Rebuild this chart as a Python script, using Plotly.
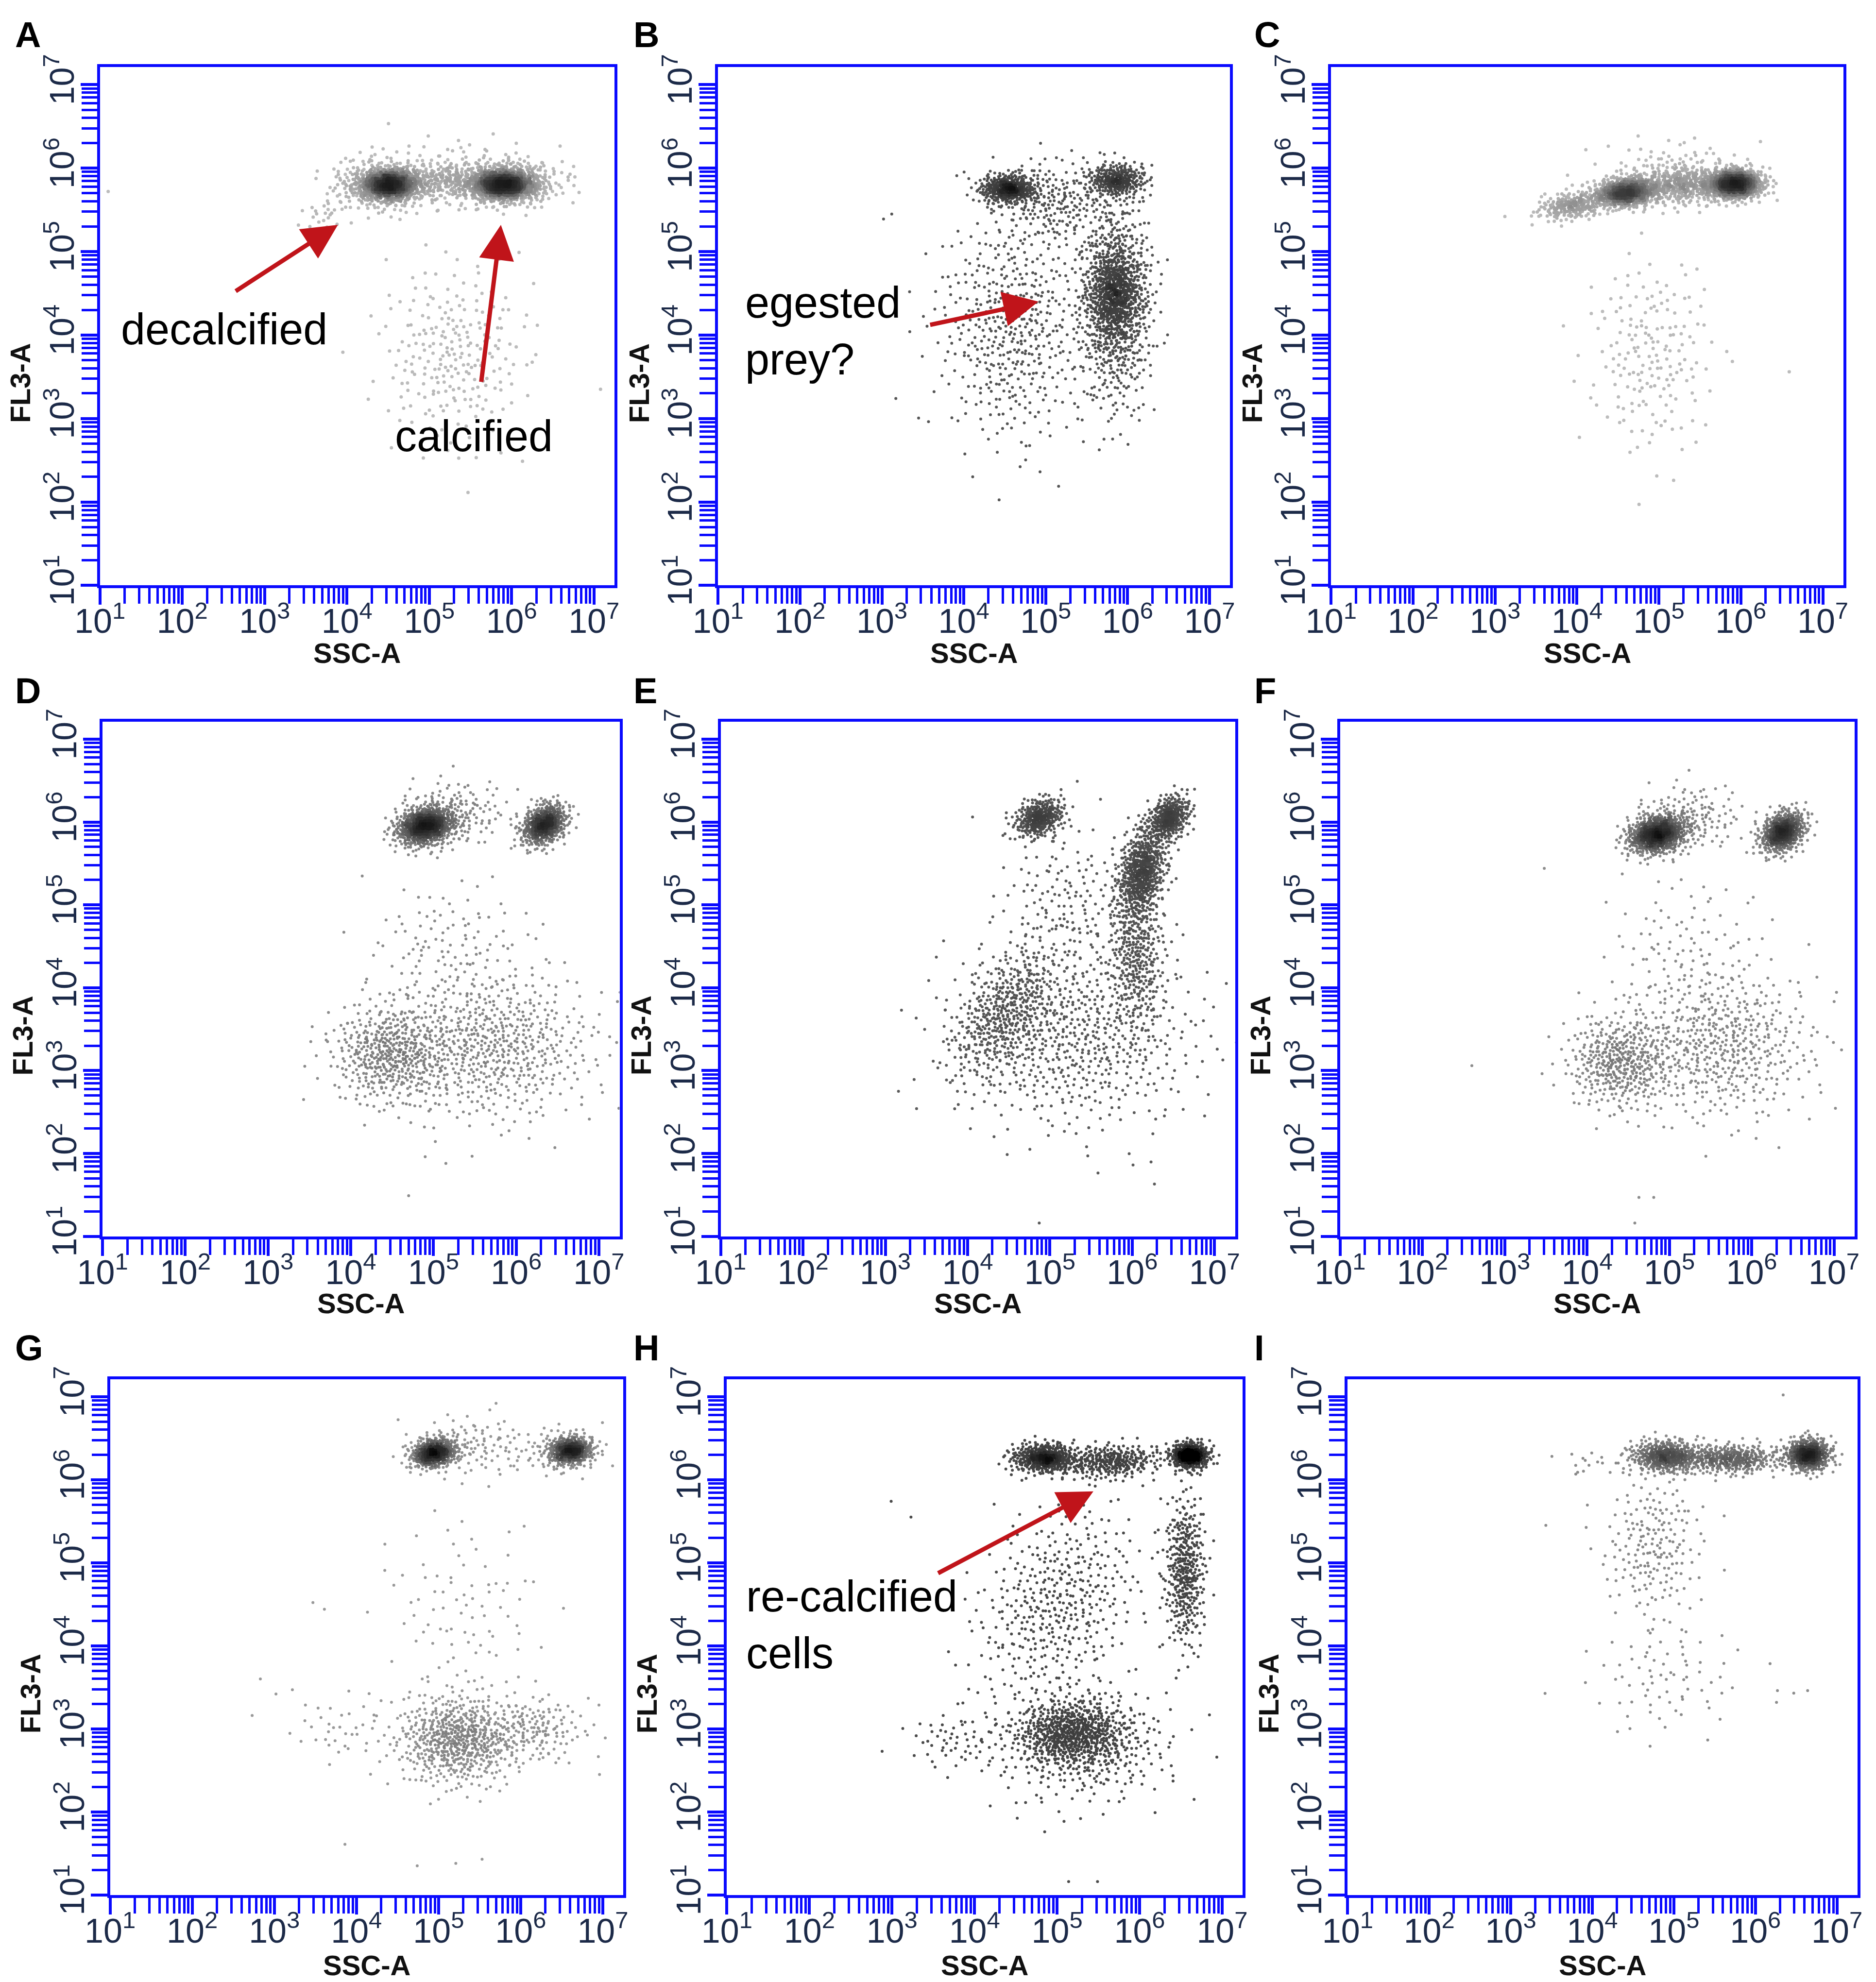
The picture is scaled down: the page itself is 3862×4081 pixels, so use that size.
import numpy as np
import plotly.graph_objects as go

# Flow cytometry dot plots, SSC-A (x) vs FL3-A (y), both log axes.
# Each cloud in decades (log10):
# (x centre, y centre, x spread, y spread, tilt, number of events)
CLUSTERS_A = [
    (4.52, 5.80, 0.17, 0.09, 0.0, 600),
    (5.90, 5.80, 0.19, 0.09, 0.0, 700),
    (4.45, 5.80, 0.30, 0.15, 0.0, 380),
    (5.95, 5.82, 0.32, 0.14, 0.0, 380),
    (5.20, 5.85, 0.25, 0.12, 0.0, 160),
    (5.30, 5.95, 0.60, 0.22, 0.0, 100),
    (3.75, 5.45, 0.18, 0.09, 0.0, 20),
    (5.30, 3.75, 0.45, 0.55, 0.0, 240),
]
CLUSTERS_B = [
    (4.54, 5.75, 0.18, 0.09, 0.0, 380),
    (5.87, 5.85, 0.18, 0.10, 0.0, 300),
    (5.85, 4.50, 0.17, 0.28, 0.0, 500),
    (5.85, 4.40, 0.22, 0.62, 0.0, 750),
    (4.60, 4.10, 0.45, 0.70, 0.0, 480),
    (5.10, 5.60, 0.35, 0.25, 0.0, 200),
]
CLUSTERS_C = [
    (4.60, 5.71, 0.20, 0.09, 0.15, 600),
    (5.93, 5.81, 0.17, 0.09, 0.0, 700),
    (3.95, 5.55, 0.22, 0.09, 0.3, 200),
    (5.30, 5.80, 0.28, 0.12, 0.0, 300),
    (5.20, 5.95, 0.50, 0.20, 0.0, 110),
    (4.90, 3.75, 0.38, 0.60, 0.0, 180),
]
CLUSTERS_D = [
    (4.90, 5.95, 0.18, 0.12, 0.2, 700),
    (6.34, 5.97, 0.14, 0.13, 0.3, 520),
    (5.25, 6.10, 0.32, 0.20, 0.0, 150),
    (4.48, 3.20, 0.35, 0.30, 0.0, 450),
    (5.70, 3.30, 0.62, 0.45, 0.0, 600),
    (5.20, 4.50, 0.50, 0.40, 0.0, 110),
]
CLUSTERS_E = [
    (4.87, 6.05, 0.15, 0.12, 0.3, 320),
    (6.45, 6.05, 0.13, 0.14, 0.3, 320),
    (6.12, 5.40, 0.15, 0.28, 0.3, 600),
    (6.05, 4.40, 0.17, 0.45, 0.0, 330),
    (4.45, 3.70, 0.33, 0.40, 0.5, 420),
    (5.30, 3.40, 0.75, 0.55, 0.0, 600),
    (5.20, 5.00, 0.40, 0.50, 0.0, 160),
]
CLUSTERS_F = [
    (4.85, 5.85, 0.18, 0.12, 0.2, 700),
    (6.38, 5.88, 0.14, 0.13, 0.3, 520),
    (5.25, 6.05, 0.32, 0.20, 0.0, 140),
    (4.40, 3.10, 0.32, 0.28, 0.0, 400),
    (5.65, 3.30, 0.55, 0.45, 0.0, 480),
    (5.20, 4.40, 0.50, 0.50, 0.0, 110),
]
CLUSTERS_G = [
    (4.94, 6.32, 0.14, 0.09, 0.2, 450),
    (6.61, 6.35, 0.14, 0.09, 0.1, 400),
    (5.35, 6.40, 0.35, 0.18, 0.0, 110),
    (6.40, 6.35, 0.30, 0.15, 0.0, 70),
    (5.24, 2.87, 0.38, 0.27, 0.0, 600),
    (6.20, 3.00, 0.30, 0.20, 0.0, 130),
    (5.30, 4.40, 0.50, 0.60, 0.0, 90),
    (3.80, 3.00, 0.30, 0.20, 0.0, 35),
]
CLUSTERS_H = [
    (4.85, 6.26, 0.20, 0.09, 0.0, 450),
    (5.65, 6.22, 0.30, 0.10, 0.1, 300),
    (6.61, 6.29, 0.12, 0.08, 0.0, 420),
    (6.55, 4.90, 0.12, 0.45, 0.0, 380),
    (5.00, 4.50, 0.50, 0.60, 0.3, 420),
    (5.19, 2.94, 0.33, 0.20, 0.0, 600),
    (5.30, 2.80, 0.55, 0.35, 0.0, 340),
    (3.75, 2.85, 0.30, 0.18, 0.0, 55),
]
CLUSTERS_I = [
    (4.90, 6.28, 0.22, 0.10, 0.0, 420),
    (5.70, 6.25, 0.30, 0.09, 0.0, 360),
    (6.65, 6.30, 0.14, 0.10, 0.0, 480),
    (4.75, 5.20, 0.30, 0.45, 0.0, 190),
    (4.90, 3.60, 0.50, 0.35, 0.0, 75),
    (3.95, 6.20, 0.20, 0.10, 0.0, 15),
]

# single stray events (log10 x, log10 y)
OUTLIERS_A = [(1.10, 5.72), (7.08, 3.35), (3.55, 5.30)]
OUTLIERS_B = [(3.02, 5.39), (3.17, 3.24), (4.76, 2.67), (3.34, 4.04), (3.12, 5.45)]
OUTLIERS_C = [(3.12, 5.42), (6.59, 3.56), (6.40, 5.85)]
OUTLIERS_D = [(4.70, 1.49), (4.90, 1.96), (5.15, 1.88), (3.43, 2.65), (3.72, 3.35)]
OUTLIERS_E = [(3.62, 4.37), (3.16, 2.75), (4.87, 1.16), (5.46, 1.97), (6.01, 1.86), (6.27, 1.63), (4.06, 6.06)]
OUTLIERS_F = [(2.60, 3.06), (3.48, 5.44), (4.63, 1.47), (4.58, 1.16), (4.81, 1.47)]
OUTLIERS_G = [(2.83, 3.60), (2.73, 3.16), (3.02, 3.42), (3.22, 3.47), (3.47, 4.52), (3.61, 4.44),
              (3.86, 1.61), (5.21, 1.38), (5.53, 1.43), (4.74, 1.35), (6.96, 2.45), (7.03, 2.89), (5.70, 6.92)]
OUTLIERS_H = [(2.99, 5.74), (3.23, 5.55), (5.14, 1.16), (5.49, 1.16), (4.85, 1.76), (6.66, 2.15)]
OUTLIERS_I = [(6.34, 7.02), (6.27, 3.46), (6.47, 3.43), (6.64, 3.46), (3.43, 5.45)]

PANELS = ["A", "B", "C", "D", "E", "F", "G", "H", "I"]
DECADES = [1, 2, 3, 4, 5, 6, 7]
TICK_TEXT = ["10<sup>1</sup>", "10<sup>2</sup>", "10<sup>3</sup>", "10<sup>4</sup>",
             "10<sup>5</sup>", "10<sup>6</sup>", "10<sup>7</sup>"]

NOTE_PANEL = ["A", "A", "B", "H"]
NOTE_TEXT = ["decalcified", "calcified", "egested<br>prey?", "re-calcified<br>cells"]
NOTE_X = [1.245, 4.57, 1.32, 1.22]
NOTE_Y = [4.07, 2.79, 4.05, 4.255]

ARROW_PANEL = ["A", "A", "B", "H"]
ARROW_TAIL_X = [2.64, 5.63, 3.58, 3.55]
ARROW_TAIL_Y = [4.52, 3.43, 4.12, 4.87]
ARROW_HEAD_X = [3.89, 5.87, 4.91, 5.44]
ARROW_HEAD_Y = [5.32, 5.32, 4.40, 5.86]

clusters = dict(zip(PANELS, [CLUSTERS_A, CLUSTERS_B, CLUSTERS_C, CLUSTERS_D, CLUSTERS_E,
                             CLUSTERS_F, CLUSTERS_G, CLUSTERS_H, CLUSTERS_I]))
outliers = dict(zip(PANELS, [OUTLIERS_A, OUTLIERS_B, OUTLIERS_C, OUTLIERS_D, OUTLIERS_E,
                             OUTLIERS_F, OUTLIERS_G, OUTLIERS_H, OUTLIERS_I]))

# look of each panel: lightest dot grey, density that turns black, dot size
STYLE = {
    "A": ("#bcbcbc", 46, 7), "B": ("#555555", 22, 6), "C": ("#bcbcbc", 46, 7),
    "D": ("#8c8c8c", 32, 6), "E": ("#5a5a5a", 28, 6), "F": ("#8c8c8c", 32, 6),
    "G": ("#999999", 32, 6), "H": ("#4a4a4a", 22, 6), "I": ("#8c8c8c", 32, 6),
}

X_DOMAIN = {
    "A": [0.0512, 0.3255], "B": [0.3807, 0.6536], "C": [0.7075, 0.9805],
    "D": [0.0526, 0.3282], "E": [0.3821, 0.6563], "F": [0.7123, 0.9865],
    "G": [0.0566, 0.3302], "H": [0.3854, 0.6604], "I": [0.7163, 0.9880],
}
ROW_DOMAIN = [[0.7066, 0.9681], [0.3782, 0.6378], [0.0459, 0.3061]]
TITLE_Y = [-0.13, -0.13, -0.136]
LETTER_POS = [(0.0054, 0.995), (0.335, 0.995), (0.666, 0.995),
              (0.0054, 0.664), (0.335, 0.664), (0.666, 0.664),
              (0.0054, 0.3325), (0.335, 0.3325), (0.666, 0.3325)]

BLUE = "#0a0aff"
TICK_COLOR = "#1c2a48"
RED = "#c0141a"
FONT = "Liberation Sans, Arial, sans-serif"


def radical_inverse(k, base):
    k = k.copy()
    f = 1.0
    r = np.zeros(len(k))
    while np.any(k > 0):
        f /= base
        r += f * (k % base)
        k //= base
    return r


def cloud(cx, cy, sx, sy, tilt, n, start):
    # deterministic low-discrepancy spread of n events around the read centre
    k = np.arange(start + 1, start + n + 1)
    u = radical_inverse(k, 2)
    v = radical_inverse(k, 3)
    r = np.minimum(np.sqrt(-2.0 * np.log(1.0 - 0.998 * u)), 3.0)
    a = 2 * np.pi * v
    g1 = r * np.cos(a)
    g2 = r * np.sin(a)
    g2 = tilt * g1 + np.sqrt(1 - tilt ** 2) * g2
    return cx + sx * g1, cy + sy * g2


def density(lx, ly, bw=0.07):
    out = np.zeros(len(lx))
    for off in (0.0, bw / 2):
        ix = np.floor((lx + off) / bw).astype(int)
        iy = np.floor((ly + off) / bw).astype(int)
        keys = ix * 10000 + iy
        _, inv, counts = np.unique(keys, return_inverse=True, return_counts=True)
        out += counts[inv]
    return out / 2


fig = go.Figure()
layout = dict(width=3862, height=4081,
              margin=dict(l=0, r=0, t=0, b=0, pad=0, autoexpand=False),
              paper_bgcolor="white", plot_bgcolor="white", showlegend=False)
annotations = []
minor_vals = [m * 10 ** d for d in DECADES[:-1] for m in range(2, 10)]

for i, p in enumerate(PANELS):
    n = i + 1
    sfx = "" if n == 1 else str(n)
    xs, ys = [], []
    start = 17 * n
    for (cx, cy, sx, sy, tilt, cnt) in clusters[p]:
        lx, ly = cloud(cx, cy, sx, sy, tilt, cnt, start)
        start += cnt + 101
        xs.append(lx)
        ys.append(ly)
    xs.append(np.array([o[0] for o in outliers[p]]))
    ys.append(np.array([o[1] for o in outliers[p]]))
    lx = np.concatenate(xs)
    ly = np.concatenate(ys)
    dens = density(lx, ly)
    order = np.argsort(dens, kind="stable")
    low, cap, size = STYLE[p]
    fig.add_trace(go.Scatter(
        x=10 ** lx[order], y=10 ** ly[order], mode="markers",
        xaxis="x" + sfx, yaxis="y" + sfx, hoverinfo="skip",
        marker=dict(size=size, color=dens[order], cmin=1, cmax=cap,
                    colorscale=[[0, low], [0.5, "#3c3c3c"], [1, "#000000"]], showscale=False,
                    line=dict(width=0)),
    ))

    common = dict(type="log", showline=True, linecolor=BLUE, linewidth=6, mirror=True,
                  ticks="outside", ticklen=34, tickwidth=6, tickcolor=BLUE,
                  tickmode="array", tickvals=[10 ** d for d in DECADES], ticktext=TICK_TEXT,
                  tickfont=dict(family=FONT, size=70, color=TICK_COLOR),
                  minor=dict(tickmode="array", tickvals=minor_vals, ticks="outside",
                             ticklen=32, tickwidth=5, tickcolor=BLUE, showgrid=False),
                  showgrid=False, zeroline=False, fixedrange=True, automargin=False)
    row = i // 3
    layout["xaxis" + sfx] = dict(common, domain=X_DOMAIN[p], range=[1, 7.25],
                                 anchor="y" + sfx, ticklabelstandoff=-26)
    layout["yaxis" + sfx] = dict(common, domain=ROW_DOMAIN[row], range=[1, 7.21],
                                 anchor="x" + sfx, tickangle=-90, ticklabelstandoff=-14)

    annotations.append(dict(text="<b>SSC-A</b>", xref="x" + sfx + " domain", yref="y" + sfx + " domain",
                            x=0.5, y=TITLE_Y[row], xanchor="center", yanchor="middle", showarrow=False,
                            font=dict(family=FONT, size=58, color="#111111")))
    annotations.append(dict(text="<b>FL3-A</b>", xref="x" + sfx + " domain", yref="y" + sfx + " domain",
                            x=-0.155, y=0.39, xanchor="center", yanchor="middle",
                            showarrow=False, textangle=-90,
                            font=dict(family=FONT, size=58, color="#111111")))
    lx0, ly0 = LETTER_POS[i]
    annotations.append(dict(text="<b>" + p + "</b>", xref="paper", yref="paper",
                            x=lx0, y=ly0, xanchor="left", yanchor="top", showarrow=False,
                            font=dict(family=FONT, size=74, color="black")))

for j, p in enumerate(NOTE_PANEL):
    n = PANELS.index(p) + 1
    sfx = "" if n == 1 else str(n)
    annotations.append(dict(text=NOTE_TEXT[j], xref="x" + sfx, yref="y" + sfx,
                            x=NOTE_X[j], y=NOTE_Y[j], xanchor="left", yanchor="middle",
                            align="left", showarrow=False,
                            font=dict(family=FONT, size=90, color="black")))

for j, p in enumerate(ARROW_PANEL):
    n = PANELS.index(p) + 1
    sfx = "" if n == 1 else str(n)
    annotations.append(dict(text="", xref="x" + sfx, yref="y" + sfx,
                            axref="x" + sfx, ayref="y" + sfx,
                            x=ARROW_HEAD_X[j], y=ARROW_HEAD_Y[j],
                            ax=ARROW_TAIL_X[j], ay=ARROW_TAIL_Y[j],
                            showarrow=True, arrowhead=2, arrowsize=1.6, arrowwidth=9,
                            arrowcolor=RED, standoff=0))

layout["annotations"] = annotations
fig.update_layout(**layout)
fig.write_html("out.html")
